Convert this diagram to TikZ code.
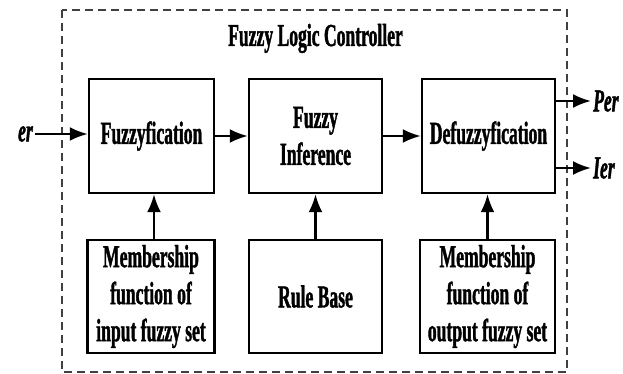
\documentclass[tikz,border=0pt]{standalone}
\usepackage{fontspec}
\setmainfont{Liberation Serif}[FakeStretch=0.55,FakeBold=1.2]
\usetikzlibrary{arrows.meta}

\begin{document}
\begin{tikzpicture}[x=1pt, y=-1pt, font=\fontsize{32}{37}\selectfont\bfseries, line width=2.4pt, -{Latex[length=18pt,width=14pt]},
	blk/.style={draw, rectangle, align=center, inner sep=0pt, minimum height=114pt},
	sig/.style={font=\fontsize{32}{37}\selectfont\bfseries\itshape, inner sep=1pt}]
	\useasboundingbox (0,0) rectangle (623,374);
	\draw[-, line width=1.3pt, dash pattern=on 8pt off 5pt, black!75] (62,10) rectangle (567,372);
	\node[anchor=base] (title) at (315.5,46) {Fuzzy Logic Controller};
	\node[blk, minimum width=125pt] (fuzz) at (151.5,136) {Fuzzyfication};
	\node[blk, minimum width=133pt] (infer) at (315.5,136) {Fuzzy\\Inference};
	\node[blk, minimum width=133pt] (defuzz) at (488.5,136) {Defuzzyfication};
	\node[blk, minimum width=127pt, minimum height=113pt] (mfin) at (151,296.5) {Membership\\function of\\input fuzzy set};
	\node[blk, minimum width=133pt, minimum height=113pt] (rule) at (315.5,296.5) {Rule Base};
	\node[blk, minimum width=135pt, minimum height=113pt] (mfout) at (487.5,296.5) {Membership\\function of\\output fuzzy set};
	\node[sig, anchor=east] (er) at (35,134) {er};
	\node[sig, anchor=west] (per) at (591,101) {Per};
	\node[sig, anchor=west] (ier) at (591,168) {Ier};
	\draw (er.east) -- (er.east -| fuzz.west);
	\draw (fuzz) -- (infer);
	\draw (infer) -- (defuzz);
	\draw (defuzz.east |- per.west) -- (per.west);
	\draw (defuzz.east |- ier.west) -- (ier.west);
	\draw (mfin.north -| 154,0) -- (fuzz.south -| 154,0);
	\draw (rule.north) -- (infer.south);
	\draw (mfout.north) -- (mfout.north |- defuzz.south);
\end{tikzpicture}
\end{document}
